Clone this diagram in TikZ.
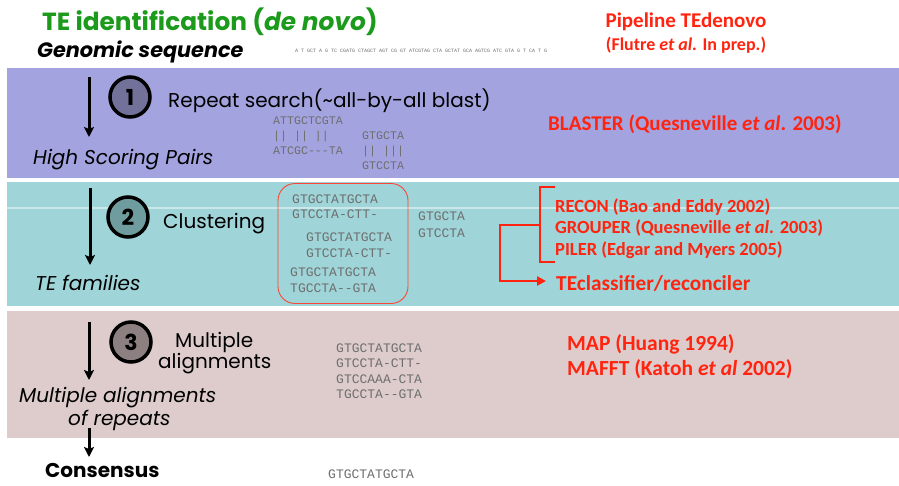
\documentclass[tikz,border=0pt]{standalone}
\usepackage{fontspec}
\setmainfont{Poppins}
\newfontfamily\calib{Carlito}
\newfontfamily\seqfont{Liberation Mono}
\usetikzlibrary{arrows.meta}
\definecolor{bandA}{HTML}{A3A3E0}
\definecolor{bandB}{HTML}{9FD4D8}
\definecolor{bandC}{HTML}{DECCCC}
\definecolor{titlegreen}{HTML}{1C9A1C}
\definecolor{refred}{HTML}{FF2410}
\definecolor{seqgray}{HTML}{6E6E6E}
\definecolor{discA}{HTML}{717199}
\definecolor{discB}{HTML}{6F9C9E}
\definecolor{discC}{HTML}{8C8080}
\begin{document}
\begin{tikzpicture}[x=1pt,y=-1pt,
  gothic/.style={inner sep=0pt,anchor=base west,font=\fontsize{20}{24}\selectfont},
  gothicit/.style={gothic,font=\itshape\fontsize{20}{24}\selectfont},
  refs/.style={inner sep=0pt,anchor=base west,text=refred,font=\calib\bfseries\fontsize{18.5}{20}\selectfont},
  seq/.style={inner sep=0pt,anchor=base west,text=seqgray,font=\seqfont\fontsize{13}{14}\selectfont},
  seqsmall/.style={seq,font=\seqfont\fontsize{11.6}{13}\selectfont},
  flow/.style={-{Stealth[length=10pt,width=10pt,inset=2pt]},line width=3pt},
  stepnum/.style={circle,draw=black,line width=3.5pt,minimum size=40pt,inner sep=0pt,
    font=\bfseries\fontsize{22}{22}\selectfont},
  bracket/.style={draw=refred,line width=2.6pt}]
\useasboundingbox (0,0) rectangle (899,485);
\fill[white] (0,0) rectangle (899,485);

% coloured bands of the three stages
\fill[bandA] (7,68) rectangle (899,178);
\fill[bandB] (7,182) rectangle (899,306);
\fill[bandC] (7,311) rectangle (899,438);
\draw[white,opacity=0.45,line width=1.5pt] (7,208) -- (899,208);

% heading
\node[inner sep=0pt,anchor=base west,text=titlegreen,font=\bfseries\fontsize{24.8}{28}\selectfont]
  (title) at (42,30) {TE identification (\textit{de novo})};
\node[inner sep=0pt,anchor=base west,font=\bfseries\itshape\fontsize{20.8}{24}\selectfont]
  (genome) at (37,57) {Genomic sequence};
\node[inner sep=0pt,anchor=base west,text=seqgray,font=\seqfont\fontsize{5}{6}\selectfont]
  (genseq) at (295,52) {A T  GCT  A  G   TC  CGATG  CTAGCT  AGT  CG  GT  ATCGTAG  CTA  GCTAT  GCA  AGTCG  ATC  GTA  G  T   CA   T   G};
\node[inner sep=0pt,anchor=base,text=refred,font=\calib\bfseries\fontsize{21}{24}\selectfont]
  (pipe) at (686,27) {Pipeline TEdenovo};
\node[inner sep=0pt,anchor=base,text=refred,font=\calib\bfseries\fontsize{18}{20}\selectfont]
  (prep) at (686,50) {(Flutre \textit{et al.} In prep.)};

% stage 1: repeat search
\coordinate (a1s) at (89,77);
\coordinate (a1e) at (89,137);
\draw[flow] (a1s) -- (a1e);
\node[stepnum,fill=discA] (s1) at (130,97) {1};
\node[gothic] (rs) at (168,107) {Repeat search(\textasciitilde all-by-all blast)};
\node[gothicit] (hsp) at (33,164) {High Scoring Pairs};
\node[seqsmall] (h1) at (273,124) {ATTGCTCGTA};
\node[seqsmall] (h2) at (273,139) {|| ||   ||};
\node[seqsmall] (h3) at (273,154) {ATCGC---TA};
\node[seqsmall] (h4) at (362,139) {GTGCTA};
\node[seqsmall] (h5) at (362,154) {|| |||};
\node[seqsmall] (h6) at (362,169) {GTCCTA};
\node[refs,font=\calib\bfseries\fontsize{21}{23}\selectfont] (blaster) at (548,130)
  {BLASTER (Quesneville \textit{et al}. 2003)};

% stage 2: clustering
\coordinate (a2s) at (90,188);
\coordinate (a2e) at (90,265);
\draw[flow] (a2s) -- (a2e);
\node[stepnum,fill=discB] (s2) at (128,217) {2};
\node[gothic] (clu) at (163,228) {Clustering};
\node[gothicit] (fam) at (35,290) {TE families};
\node[draw=refred!85,line width=0.9pt,rounded corners=17pt,minimum width=130pt,
  minimum height=120pt,inner sep=0pt] (clusbox) at (343,243.5) {};
\node[seq] (c1) at (292,203) {GTGCTATGCTA};
\node[seq] (c2) at (292,218) {GTCCTA-CTT-};
\node[seq] (c3) at (306,241) {GTGCTATGCTA};
\node[seq] (c4) at (306,257) {GTCCTA-CTT-};
\node[seq] (c5) at (290,276) {GTGCTATGCTA};
\node[seq] (c6) at (290,292) {TGCCTA--GTA};
\node[seq] (c7) at (418,220) {GTGCTA};
\node[seq] (c8) at (418,237) {GTCCTA};
\node[refs] (recon) at (555,212) {RECON (Bao and Eddy 2002)};
\node[refs] (grouper) at (555,233) {GROUPER (Quesneville \textit{et al.} 2003)};
\node[refs] (piler) at (555,255) {PILER (Edgar and Myers 2005)};
\node[inner sep=0pt,anchor=base west,text=refred,font=\calib\bfseries\fontsize{21.3}{23}\selectfont]
  (tecl) at (556,290) {TEclassifier/reconciler};
\coordinate (bt) at (555,187);
\coordinate (bb) at (555,262);
\coordinate (bm) at (540,225);
\coordinate (bl) at (500,225);
\coordinate (bd) at (500,281);
\draw[bracket] (bt) -| (bm) |- (bb);
\draw[bracket,shorten >=10pt,-{Triangle[length=9pt,width=9pt]}]
  (bm) -- (bl) -- (bd) -- (bd -| tecl.west);

% stage 3: multiple alignment
\coordinate (a3s) at (89,322);
\coordinate (a3e) at (89,380);
\draw[flow] (a3s) -- (a3e);
\node[stepnum,fill=discC] (s3) at (131,342) {3};
\node[gothic] (mul) at (175,347) {Multiple};
\node[gothic] (ali) at (158,368) {alignments};
\node[gothicit] (mar) at (19,402) {Multiple alignments};
\node[gothicit] (orep) at (68,425) {of repeats};
\node[seq] (m1) at (336,352) {GTGCTATGCTA};
\node[seq] (m2) at (336,367) {GTCCTA-CTT-};
\node[seq] (m3) at (336,383) {GTCCAAA-CTA};
\node[seq] (m4) at (336,398) {TGCCTA--GTA};
\node[refs,font=\calib\bfseries\fontsize{21.5}{23}\selectfont] (map) at (567,350) {MAP (Huang 1994)};
\node[refs,font=\calib\bfseries\fontsize{21.5}{23}\selectfont] (mafft) at (567,375) {MAFFT (Katoh \textit{et al} 2002)};

% consensus
\coordinate (a4s) at (89,428);
\coordinate (a4e) at (89,457);
\draw[flow] (a4s) -- (a4e);
\node[inner sep=0pt,anchor=base west,font=\bfseries\fontsize{20}{22}\selectfont]
  (cons) at (45,477) {Consensus};
\node[seq] (cseq) at (328,478) {GTGCTATGCTA};
\end{tikzpicture}
\end{document}
